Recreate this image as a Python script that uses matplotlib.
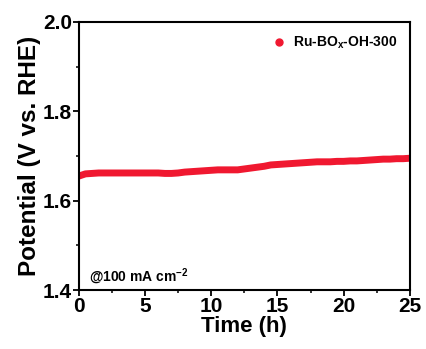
import matplotlib
matplotlib.use('Agg')
import matplotlib.pyplot as plt
from matplotlib.lines import Line2D
from matplotlib.ticker import MultipleLocator

# time (h) and potential (V vs. RHE), every 0.5 h
time_h = [0, 0.5, 1, 1.5, 2, 2.5, 3, 3.5, 4, 4.5, 5, 5.5, 6, 6.5, 7, 7.5, 8,
          8.5, 9, 9.5, 10, 10.5, 11, 11.5, 12, 12.5, 13, 13.5, 14, 14.5, 15,
          15.5, 16, 16.5, 17, 17.5, 18, 18.5, 19, 19.5, 20, 20.5, 21, 21.5,
          22, 22.5, 23, 23.5, 24, 24.5, 25]
potential = [1.655, 1.660, 1.661, 1.662, 1.662, 1.662, 1.662, 1.662, 1.662,
             1.662, 1.662, 1.662, 1.662, 1.661, 1.661, 1.662, 1.664, 1.665,
             1.666, 1.667, 1.668, 1.669, 1.669, 1.669, 1.669, 1.671, 1.673,
             1.675, 1.677, 1.680, 1.681, 1.682, 1.683, 1.684, 1.685, 1.686,
             1.687, 1.687, 1.687, 1.688, 1.688, 1.689, 1.689, 1.690, 1.691,
             1.692, 1.693, 1.693, 1.694, 1.694, 1.695]
label = 'Ru-BO$_\\mathregular{x}$-OH-300'
red = '#f01830'

plt.rcParams['font.family'] = ['Liberation Sans', 'DejaVu Sans']
plt.rcParams['font.weight'] = 'bold'

fig = plt.figure(figsize=(4.26, 3.49), dpi=100)
ax = fig.add_axes([0.185, 0.169, 0.777, 0.768])

ax.plot(time_h, potential, color=red, lw=5, solid_capstyle='butt')

ax.set_xlim(0, 25)
ax.set_ylim(1.4, 2.0)
ax.xaxis.set_major_locator(MultipleLocator(5))
ax.xaxis.set_minor_locator(MultipleLocator(2.5))
ax.yaxis.set_major_locator(MultipleLocator(0.2))
ax.yaxis.set_minor_locator(MultipleLocator(0.1))
ax.tick_params(which='major', direction='out', length=4, width=1.3, labelsize=15, pad=1)
ax.tick_params(which='minor', direction='out', length=2, width=1.1)
for s in ax.spines.values():
    s.set_linewidth(1.5)

ax.set_xlabel('Time (h)', fontsize=16, fontweight='bold', labelpad=0)
ax.set_ylabel('Potential (V vs. RHE)', fontsize=17.5, fontweight='bold', labelpad=1)

h = Line2D([], [], ls='none', marker='o', ms=5, color=red)
ax.legend([h], [label], loc='upper right', frameon=False, fontsize=10,
          handletextpad=0.4, borderaxespad=0.5, handlelength=1.2)
ax.text(0.03, 0.03, '@100 mA cm$^\\mathregular{-2}$', transform=ax.transAxes,
        fontsize=10, fontweight='bold')

fig.savefig('out.png', dpi=100)
